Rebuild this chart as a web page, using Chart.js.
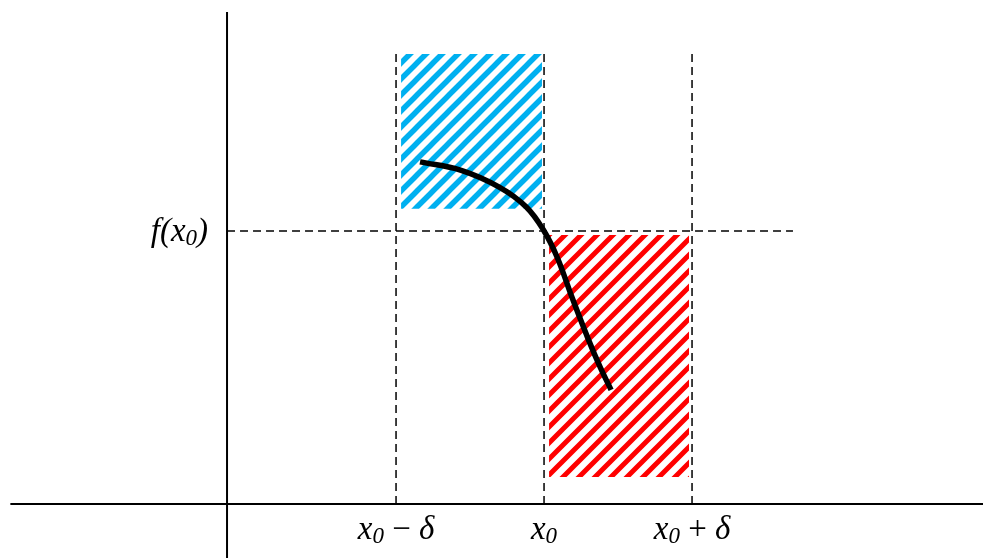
<!DOCTYPE html>
<html>
<head>
<meta charset="utf-8">
<script src="https://cdn.jsdelivr.net/npm/chart.js@4.4.0/dist/chart.umd.min.js"></script>
<style>
  html, body { margin: 0; padding: 0; background: #fff; }
  #wrap { width: 983px; height: 558px; }
</style>
</head>
<body>
<div id="wrap"><canvas id="grafico"></canvas></div>
<script>
// Datos (x0 = 0, delta = 1, f(x0) = 1)
const tickValues = [-1, 0, 1];
const tickLabels = ['x0 − δ', 'x0', 'x0 + δ'];
const yTickValue = 1;
const yTickLabel = 'f(x0)';

// curva f(x) cerca de x0
const curveX = [-0.838, -0.56, -0.30, -0.12, 0, 0.09, 0.19, 0.30, 0.38, 0.453];
const curveY = [1.253, 1.222, 1.160, 1.088, 1.0, 0.902, 0.755, 0.602, 0.500, 0.418];

// rectangulos rayados [x izq, x der, y arriba, y abajo]
const blueBox = [-0.966, -0.014, 1.648, 1.081];
const redBox = [0.034, 0.98, 0.985, 0.099];

// limites de los ejes
const xAxisY = 0;
const yAxisX = -2.142;
const xRange = [-3.676, 2.966];
const yRange = [-0.198, 1.846];
const dashTop = 1.648;
const dashRight = 1.682;

// patron rayado diagonal
function hatch(color, lw) {
    const s = 16;
    const c = document.createElement('canvas');
    c.width = s; c.height = s;
    const g = c.getContext('2d');
    g.strokeStyle = color;
    g.lineWidth = lw;
    g.beginPath();
    g.moveTo(-4, s + 4); g.lineTo(s + 4, -4);
    g.moveTo(-4, 4); g.lineTo(4, -4);
    g.moveTo(s - 4, s + 4); g.lineTo(s + 4, s - 4);
    g.stroke();
    return g.createPattern(c, 'repeat');
}

function box(b, color, lw) {
    return {
        data: [{ x: b[0], y: b[2] }, { x: b[1], y: b[2] }],
        borderWidth: 0,
        borderColor: 'rgba(0,0,0,0)',
        backgroundColor: hatch(color, lw),
        fill: { value: b[3] },
        pointRadius: 0,
        order: 4
    };
}

function line(pts, dashed, width, order) {
    return {
        data: pts,
        borderColor: '#000',
        borderWidth: width,
        borderDash: dashed ? [8, 5] : [],
        fill: false,
        pointRadius: 0,
        order: order
    };
}

const datasets = [
    {
        data: curveX.map((x, i) => ({ x: x, y: curveY[i] })),
        borderColor: '#000',
        borderWidth: 5.5,
        tension: 0.4,
        borderCapStyle: 'butt',
        fill: false,
        pointRadius: 0,
        order: 0
    },
    line([{ x: xRange[0] + 0.07, y: xAxisY }, { x: xRange[1], y: xAxisY }], false, 2, 1),
    line([{ x: yAxisX, y: yRange[0] }, { x: yAxisX, y: 1.802 }], false, 2, 1),
    line([{ x: yAxisX, y: yTickValue }, { x: dashRight, y: yTickValue }], true, 1.5, 2),
    box(blueBox, '#00b0f0', 5.5),
    box(redBox, '#ff0000', 5)
];
tickValues.forEach(v => datasets.push(line([{ x: v, y: xAxisY }, { x: v, y: dashTop }], true, 1.5, 2)));

// dibuja etiquetas con subindice
function drawLabel(ctx, text, y) {
    const size = 33;
    const parts = [];
    for (let i = 0; i < text.length; i++) {
        const ch = text[i];
        if (/[0-9]/.test(ch) && text[i - 1] === 'x') parts.push({ t: ch, f: 'italic 23px "Liberation Serif"', dy: 4 });
        else if (/[−+ ]/.test(ch)) parts.push({ t: ch, f: size + 'px "Liberation Serif"', dy: 0 });
        else parts.push({ t: ch, f: 'italic ' + size + 'px "Liberation Serif"', dy: 0 });
    }
    let w = 0;
    parts.forEach(p => { ctx.font = p.f; p.w = ctx.measureText(p.t).width; w += p.w; });
    return { w: w, draw: function (left) {
        let cx = left;
        ctx.textBaseline = 'alphabetic';
        ctx.textAlign = 'left';
        ctx.fillStyle = '#000';
        parts.forEach(p => { ctx.font = p.f; ctx.fillText(p.t, cx, y + p.dy); cx += p.w; });
    } };
}

const etiquetas = {
    id: 'etiquetas',
    afterDraw(chart) {
        const ctx = chart.ctx;
        const xs = chart.scales.x, ys = chart.scales.y;
        ctx.save();
        tickValues.forEach((v, i) => {
            const l = drawLabel(ctx, tickLabels[i], ys.getPixelForValue(xAxisY) + 35);
            l.draw(xs.getPixelForValue(v) - l.w / 2);
        });
        const l = drawLabel(ctx, yTickLabel, ys.getPixelForValue(yTickValue) + 10);
        l.draw(xs.getPixelForValue(yAxisX) - 19 - l.w);
        ctx.restore();
    }
};

const ctx = document.getElementById('grafico').getContext('2d');
new Chart(ctx, {
    type: 'line',
    data: { datasets: datasets },
    options: {
        responsive: true,
        maintainAspectRatio: false,
        animation: false,
        layout: { padding: 0 },
        plugins: { legend: { display: false }, tooltip: { enabled: false } },
        scales: {
            x: { type: 'linear', display: false, min: xRange[0], max: xRange[1] },
            y: { type: 'linear', display: false, min: yRange[0], max: yRange[1] }
        }
    },
    plugins: [etiquetas]
});
</script>
</body>
</html>
